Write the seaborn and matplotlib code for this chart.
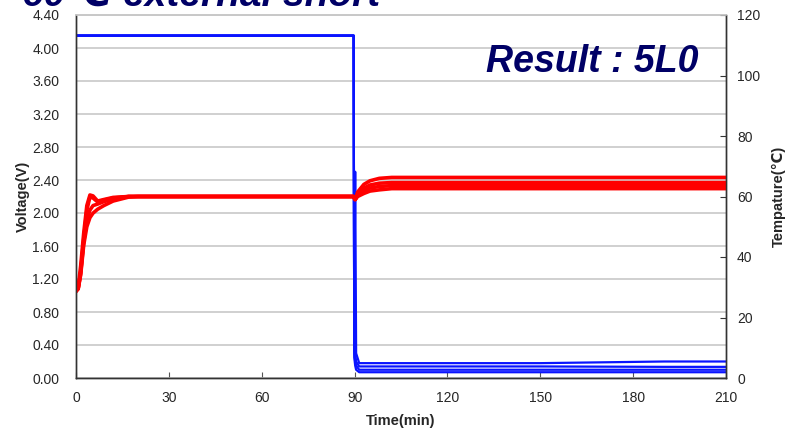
import matplotlib
matplotlib.use("Agg")
import matplotlib.pyplot as plt
import seaborn as sns
import pandas as pd

# Cell voltage (V) during the external short test
volt_time = [0, 89.7, 89.9, 90.2, 90.5, 91.5, 150, 190, 210]
volt_cell1 = [4.15, 4.15, 0.40, 2.50, 0.30, 0.18, 0.18, 0.20, 0.20]
volt_cell2 = [4.15, 4.15, 0.35, 0.30, 0.20, 0.14, 0.14, 0.135, 0.135]
volt_cell3 = [4.15, 4.15, 0.30, 0.20, 0.15, 0.10, 0.10, 0.10, 0.10]
volt_cell4 = [4.15, 4.15, 0.25, 0.15, 0.10, 0.07, 0.07, 0.07, 0.07]

# Cell surface temperature (degC)
temp_time = [0, 0.7, 1.5, 2.5, 3.5, 4.5, 5.5, 7, 9, 12, 17, 20, 89.6, 90.2,
             91, 93, 95, 98, 102, 110, 210]
temp_cell1 = [29, 30, 37, 48, 57, 60.5, 60.2, 58.5, 59, 59.7, 60, 60, 60, 59,
              61.5, 64, 65.2, 66, 66.3, 66.3, 66.3]
temp_cell2 = [28.5, 29.5, 35, 46, 55.5, 59.8, 59.5, 58.2, 58.8, 59.5, 60, 60, 60, 59,
              60.8, 62.8, 63.8, 64.4, 64.6, 64.6, 64.6]
temp_cell3 = [29, 29.5, 34, 44, 50, 53, 54.5, 55.8, 57, 58.5, 59.8, 60, 60, 59,
              60.3, 61.8, 62.8, 63.3, 63.6, 63.6, 63.6]
temp_cell4 = [28.8, 29.5, 34.5, 45, 52, 55.5, 57, 57.5, 58.3, 59.2, 60, 60, 60, 59,
              60, 61, 61.8, 62.2, 62.6, 62.6, 62.6]

x_ticks = [0, 30, 60, 90, 120, 150, 180, 210]
volt_ticks = [0.0, 0.4, 0.8, 1.2, 1.6, 2.0, 2.4, 2.8, 3.2, 3.6, 4.0, 4.4]
temp_ticks = [0, 20, 40, 60, 80, 100, 120]

sns.set_theme(style="white")
plt.rcParams["font.family"] = ["Liberation Sans", "DejaVu Sans"]

volt_df = pd.concat([
    pd.DataFrame({"time": volt_time, "volt": v, "cell": i})
    for i, v in enumerate([volt_cell1, volt_cell2, volt_cell3, volt_cell4])
])
temp_df = pd.concat([
    pd.DataFrame({"time": temp_time, "temp": t, "cell": i})
    for i, t in enumerate([temp_cell1, temp_cell2, temp_cell3, temp_cell4])
])

fig = plt.figure(figsize=(7.87, 4.30), dpi=100)
ax = fig.add_axes([76 / 787, 1 - 378 / 430, 650 / 787, 363 / 430])

sns.lineplot(data=volt_df, x="time", y="volt", units="cell", estimator=None,
             color="#0a14ff", lw=1.6, ax=ax, legend=False)

ax.set_xlim(0, 210)
ax.set_ylim(0, 4.4)
ax.set_xticks(x_ticks)
ax.set_yticks(volt_ticks)
ax.set_yticklabels([f"{v:.2f}" for v in volt_ticks])
ax.yaxis.grid(True, color="#c8c8c8", lw=1.2)
ax.xaxis.grid(False)
ax.set_xlabel("Time(min)", fontsize=10.5, fontweight="bold", labelpad=7)
ax.set_ylabel("Voltage(V)", fontsize=10.5, fontweight="bold", labelpad=2)
ax.tick_params(axis="x", direction="in", length=4, width=0.8, color="#555555",
               labelsize=10, pad=9, bottom=True)
ax.tick_params(axis="y", direction="in", length=0, labelsize=10, pad=12)

ax2 = ax.twinx()
sns.lineplot(data=temp_df, x="time", y="temp", units="cell", estimator=None,
             color="#ff0000", lw=2.6, ax=ax2, legend=False)
ax2.set_ylim(0, 120)
ax2.set_yticks(temp_ticks)
ax2.grid(False)
ax2.set_ylabel("Tempature(℃)", fontsize=10.5, fontweight="bold",
               labelpad=8, family=["Liberation Sans", "DejaVu Sans"])
ax2.tick_params(axis="y", direction="in", length=4, width=0.8, color="#333333",
                labelsize=10, pad=8, right=True)

for a in (ax, ax2):
    a.spines["top"].set_color("#c8c8c8")
    a.spines["top"].set_linewidth(1.2)
    for s in ("left", "right", "bottom"):
        a.spines[s].set_color("#333333")
        a.spines[s].set_linewidth(1.0)

fig.text(698 / 787, 1 - 72.5 / 430, "Result : 5L0", ha="right", va="baseline",
         fontsize=27, fontweight="bold", fontstyle="italic", color="#000066")
fig.text(22 / 787, 1 - 6 / 430, "60℃ external short", ha="left", va="baseline",
         fontsize=28, fontweight="bold", fontstyle="italic", color="#000066",
         family=["Liberation Sans", "DejaVu Sans"])

fig.savefig("out.png", dpi=100)
